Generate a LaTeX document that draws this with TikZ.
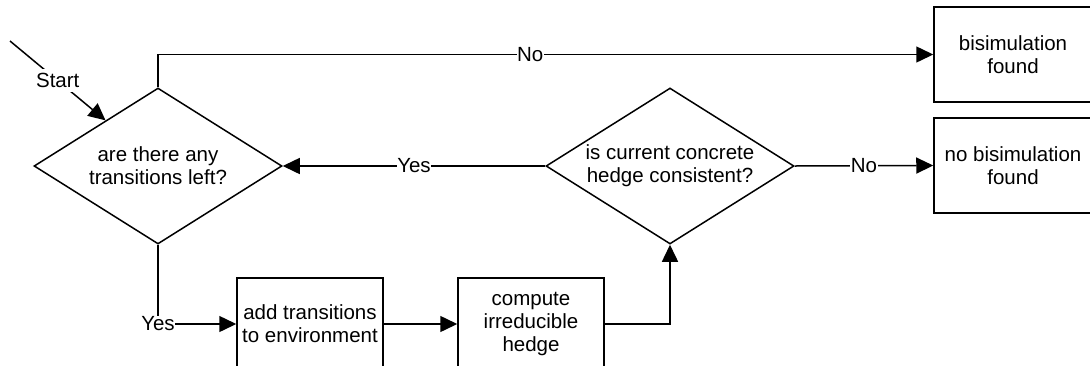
\documentclass[tikz,border=0pt]{standalone}
\usepackage{fontspec}
\setmainfont{Liberation Sans}
\usetikzlibrary{arrows.meta, shapes.geometric}

\tikzset{
  decision/.style={draw, diamond, aspect=1.59, inner sep=0pt, minimum width=248pt, minimum height=156pt, align=center},
  process/.style={draw, rectangle, inner sep=0pt, minimum width=146pt, minimum height=92pt, align=center},
  outcome/.style={draw, rectangle, inner sep=0pt, minimum width=158pt, minimum height=95pt, align=center},
  lbl/.style={fill=white, inner sep=0.5pt},
}

\begin{document}
\begin{tikzpicture}[line join=miter,>={Triangle[length=17pt,width=16pt]},x=1pt,y=-1pt,line width=1.5pt,font=\fontsize{20.5}{23}\selectfont]
\clip (0,0) rectangle (1090,365);

% decisions
\node[decision] (q1) at (158,166) {are there any\\transitions left?};
\node[decision] (q2) at (670,166) {is current concrete\\hedge consistent?};

% results
\node[outcome] (found) at (1013,54.5) {bisimulation\\found};
\node[outcome] (nofound) at (1013,165.5) {no bisimulation\\found};

% steps
\node[process] (add) at (310,324) {add transitions\\to environment};
\node[process] (irr) at (531,324) {compute\\irreducible\\hedge};

\coordinate (entry) at (10,41);

\draw [->] (entry) -- node[lbl, inner sep=4pt] {Start} (q1.139);
\draw [->] (q1.north) |- node[lbl, pos=0.74] {No} (found.west);
\draw [->] (q2.west) -- node[lbl] {Yes} (q1.east);
\draw [->] (q2.east) -- node[lbl] {No} (nofound.west);
\draw [->] (q1.south) |- node[lbl, pos=0.5] {Yes} (add.west);
\draw [->] (add) -- (irr);
\draw [->] (irr.east) -| (q2.south);

\end{tikzpicture}
\end{document}
